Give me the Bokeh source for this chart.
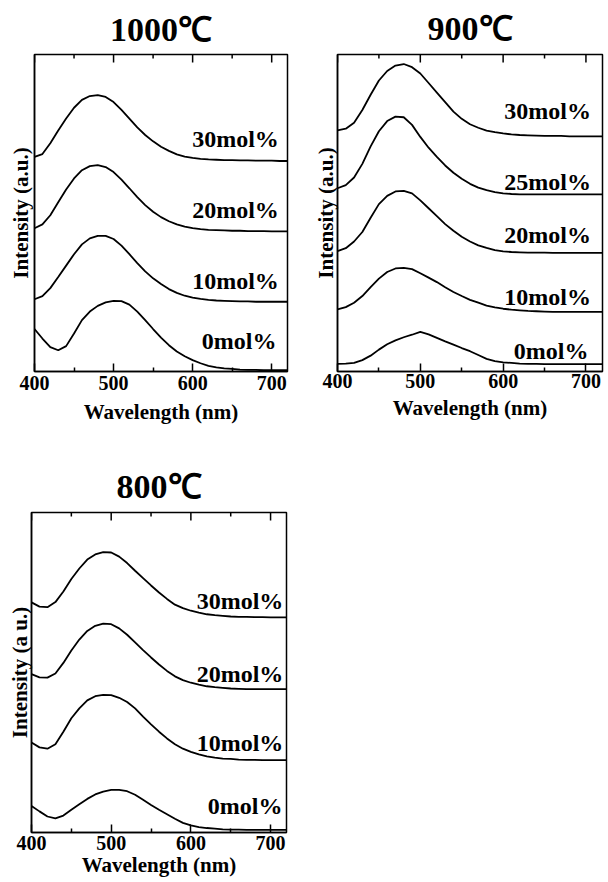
import math
from bokeh.plotting import figure
from bokeh.layouts import column, row
from bokeh.models import FixedTicker, Range1d
from bokeh.core.properties import value
from bokeh.embed import file_html
from bokeh.resources import INLINE

# ---------------- data ----------------
wavelength = [400, 410, 420, 430, 440, 450, 460, 470, 480, 490, 500,
              510, 520, 530, 540, 550, 560, 570, 580, 590, 600,
              610, 620, 630, 640, 650, 660, 670, 680, 690, 700, 710, 720]

# 1000 C (stacked intensity, a.u.)
t1000_30 = [67.7, 68.6, 72.0, 76.0, 79.8, 83.2, 85.7, 86.9, 87.2, 86.6, 85.0,
            82.5, 79.8, 77.0, 74.6, 72.6, 70.9, 69.6, 68.5, 67.8, 67.4,
            67.1, 66.9, 66.8, 66.7, 66.7, 66.6, 66.6, 66.5, 66.5, 66.5, 66.4, 66.4]
t1000_20 = [45.2, 46.4, 49.3, 53.4, 57.4, 60.9, 63.5, 64.8, 65.1, 64.5, 62.9,
            60.5, 57.8, 55.0, 52.5, 50.4, 48.7, 47.4, 46.4, 45.7, 45.2,
            44.9, 44.7, 44.6, 44.5, 44.4, 44.4, 44.3, 44.3, 44.3, 44.2, 44.2, 44.2]
t1000_10 = [22.8, 23.8, 26.3, 29.8, 33.4, 37.0, 40.1, 42.0, 42.8, 42.8, 41.8,
            39.7, 37.0, 34.2, 31.6, 29.4, 27.6, 26.0, 24.8, 23.9, 23.3,
            22.9, 22.6, 22.4, 22.3, 22.2, 22.1, 22.1, 22.0, 22.0, 22.0, 22.0, 22.0]
t1000_0 = [13.4, 10.4, 7.7, 6.7, 8.0, 12.0, 16.2, 18.9, 20.7, 21.8, 22.3,
           22.2, 21.1, 18.9, 16.2, 13.4, 10.7, 8.3, 6.3, 4.8, 3.6,
           2.6, 1.8, 1.3, 1.0, 0.8, 0.6, 0.5, 0.5, 0.4, 0.4, 0.4, 0.4]

# 900 C
t900_30 = [76.1, 76.6, 78.5, 82.5, 87.3, 91.8, 94.8, 96.5, 97.0, 96.0, 94.0,
           91.0, 88.0, 85.0, 82.0, 79.7, 78.0, 76.9, 76.0, 75.5, 75.1,
           74.8, 74.6, 74.5, 74.4, 74.3, 74.3, 74.3, 74.2, 74.2, 74.2, 74.2, 74.2]
t900_25 = [57.8, 58.8, 61.2, 65.5, 71.0, 75.8, 79.0, 80.4, 80.2, 77.8, 74.0,
           70.6, 67.7, 65.0, 62.7, 60.8, 59.2, 58.0, 57.2, 56.6, 56.2,
           56.0, 55.9, 55.9, 55.9, 55.9, 55.9, 55.9, 55.9, 55.9, 55.9, 55.9, 55.9]
t900_20 = [38.0, 38.9, 41.0, 44.0, 48.5, 52.8, 55.4, 56.8, 57.0, 56.2, 54.0,
           51.5, 49.0, 46.5, 44.4, 42.5, 41.0, 39.8, 39.0, 38.3, 37.9,
           37.7, 37.6, 37.5, 37.5, 37.5, 37.4, 37.4, 37.4, 37.4, 37.4, 37.4, 37.4]
t900_10 = [19.6, 20.3, 21.7, 23.8, 26.6, 29.3, 31.4, 32.5, 32.7, 32.3, 31.0,
           29.6, 28.2, 26.6, 25.1, 23.8, 22.6, 21.7, 20.8, 20.2, 19.8,
           19.5, 19.3, 19.1, 19.0, 18.9, 18.8, 18.8, 18.8, 18.8, 18.8, 18.8, 18.8]
t900_0 = [2.4, 2.5, 2.7, 3.6, 5.0, 6.9, 8.6, 9.8, 10.8, 11.6, 12.5,
          11.7, 10.6, 9.5, 8.5, 7.4, 6.4, 5.2, 4.0, 3.3, 2.9,
          2.7, 2.5, 2.4, 2.4, 2.3, 2.3, 2.3, 2.3, 2.3, 2.3, 2.3, 2.3]

# 800 C
t800_30 = [71.9, 70.6, 70.4, 72.0, 75.3, 79.2, 82.5, 85.3, 86.9, 87.6, 87.5,
           86.2, 84.2, 81.8, 79.5, 77.2, 75.0, 73.0, 71.2, 70.1, 69.3,
           68.7, 68.2, 67.9, 67.7, 67.5, 67.4, 67.4, 67.3, 67.3, 67.2, 67.2, 67.2]
t800_20 = [49.5, 48.5, 48.4, 49.7, 53.0, 56.9, 60.3, 63.0, 64.6, 65.3, 65.1,
           63.8, 61.8, 59.4, 57.0, 54.7, 52.5, 50.5, 48.8, 47.6, 46.8,
           46.2, 45.7, 45.4, 45.2, 45.0, 44.9, 44.8, 44.8, 44.8, 44.8, 44.8, 44.8]
t800_10 = [28.1, 26.6, 26.2, 27.6, 31.5, 35.7, 38.8, 41.3, 42.6, 43.0, 42.9,
           42.1, 40.8, 38.8, 36.2, 33.8, 31.5, 29.4, 27.6, 26.2, 25.2,
           24.4, 23.8, 23.4, 23.1, 23.0, 22.8, 22.7, 22.7, 22.6, 22.6, 22.6, 22.6]
t800_0 = [8.3, 6.6, 5.0, 4.4, 5.3, 7.1, 8.8, 10.5, 11.9, 12.8, 13.3,
          13.3, 12.9, 11.8, 10.2, 8.6, 7.1, 5.7, 4.3, 3.0, 2.2,
          1.7, 1.4, 1.2, 1.0, 0.9, 0.9, 0.8, 0.8, 0.8, 0.8, 0.8, 0.8]

labels_1000 = ["30mol%", "20mol%", "10mol%", "0mol%"]
labels_900 = ["30mol%", "25mol%", "20mol%", "10mol%", "0mol%"]
labels_800 = ["30mol%", "20mol%", "10mol%", "0mol%"]

x_ticks = [400, 500, 600, 700]
x_minor_ticks = [450, 550, 650]

# label anchor positions (right edge, vertical centre)
lab_x_1000 = [709, 709, 709, 706]
lab_y_1000 = [73.5, 51.0, 28.5, 9.6]
lab_x_900 = [706, 706, 706, 706, 703]
lab_y_900 = [82.3, 59.8, 43.1, 23.6, 6.6]
lab_x_800 = [716, 716, 716, 715]
lab_y_800 = [72.4, 49.5, 28.1, 8.3]

FONT = "Liberation Serif"


def make_panel(title, series, labels, lab_x, lab_y, ylabel,
               width, height, bl, br, bt, bb,
               tick_standoff, xlabel_standoff, ylabel_standoff, title_standoff):
    p = figure(width=width, height=height, output_backend="svg",
               toolbar_location=None, x_range=Range1d(400, 720),
               y_range=Range1d(0, 100),
               min_border_left=bl, min_border_right=br,
               min_border_top=bt, min_border_bottom=bb)
    p.background_fill_color = "white"
    p.border_fill_color = "white"
    p.xgrid.visible = False
    p.ygrid.visible = False
    p.outline_line_color = "black"
    p.outline_line_width = 1.5
    p.outline_line_alpha = 1.0

    # bottom axis
    xa = p.xaxis[0]
    xa.ticker = FixedTicker(ticks=x_ticks, minor_ticks=x_minor_ticks)
    xa.major_tick_in = 8
    xa.major_tick_out = 0
    xa.minor_tick_in = 4
    xa.minor_tick_out = 0
    xa.major_tick_line_width = 1.5
    xa.minor_tick_line_width = 1.5
    xa.axis_line_width = 1.5
    xa.axis_line_color = "black"
    xa.major_label_text_font = FONT
    xa.major_label_text_font_style = "bold"
    xa.major_label_text_font_size = "20px"
    xa.major_label_text_color = "black"
    xa.major_label_standoff = tick_standoff
    xa.axis_label = "Wavelength (nm)"
    xa.axis_label_text_font = FONT
    xa.axis_label_text_font_style = "bold"
    xa.axis_label_text_font_size = "21px"
    xa.axis_label_text_color = "black"
    xa.axis_label_standoff = xlabel_standoff

    # tick marks along the top edge (clipped to the frame, so only the
    # inner half of each mark is visible)
    y_top = p.y_range.end
    p.scatter(x=x_ticks, y=[y_top] * len(x_ticks), marker="dash",
              angle=math.pi / 2, size=16, line_color="black", line_width=1.5)
    p.scatter(x=x_minor_ticks, y=[y_top] * len(x_minor_ticks), marker="dash",
              angle=math.pi / 2, size=8, line_color="black", line_width=1.5)

    # left axis (label only)
    ya = p.yaxis[0]
    ya.ticker = FixedTicker(ticks=[])
    ya.major_tick_in = 0
    ya.major_tick_out = 0
    ya.minor_tick_in = 0
    ya.minor_tick_out = 0
    ya.major_label_standoff = 0
    ya.axis_line_width = 1.5
    ya.axis_line_color = "black"
    ya.axis_label = ylabel
    ya.axis_label_text_font = FONT
    ya.axis_label_text_font_style = "bold"
    ya.axis_label_text_font_size = "21px"
    ya.axis_label_text_color = "black"
    ya.axis_label_standoff = ylabel_standoff

    p.title.text = title
    p.title.text_font = FONT
    p.title.text_font_style = "bold"
    p.title.text_font_size = "34px"
    p.title.align = "center"
    p.title.text_color = "black"
    p.title.standoff = title_standoff

    for s in series:
        p.line(wavelength, s, line_color="black", line_width=1.8)

    p.text(x=lab_x, y=lab_y, text=labels, text_align="right",
           text_baseline="middle", text_font=value(FONT),
           text_font_style="bold", text_font_size=value("24px"),
           text_color="black")
    return p


p1 = make_panel("1000\u2103", [t1000_30, t1000_20, t1000_10, t1000_0],
                labels_1000, lab_x_1000, lab_y_1000, "Intensity (a.u.)",
                303, 440, 34, 16, 52, 69, 4, 7, 2, 14)
p2 = make_panel("900\u2103", [t900_30, t900_25, t900_20, t900_10, t900_0],
                labels_900, lab_x_900, lab_y_900, "Intensity (a.u.)",
                304, 440, 34, 5, 53, 67, 2, 5, 0, 15)
p3 = make_panel("800\u2103", [t800_30, t800_20, t800_10, t800_0],
                labels_800, lab_x_800, lab_y_800, "Intensity (a u.)",
                302, 441, 31, 16, 72, 49, 3, 0, 0, 16)

layout = column(row(p1, p2), p3)

open("out.html", "w").write(file_html(layout, INLINE))
